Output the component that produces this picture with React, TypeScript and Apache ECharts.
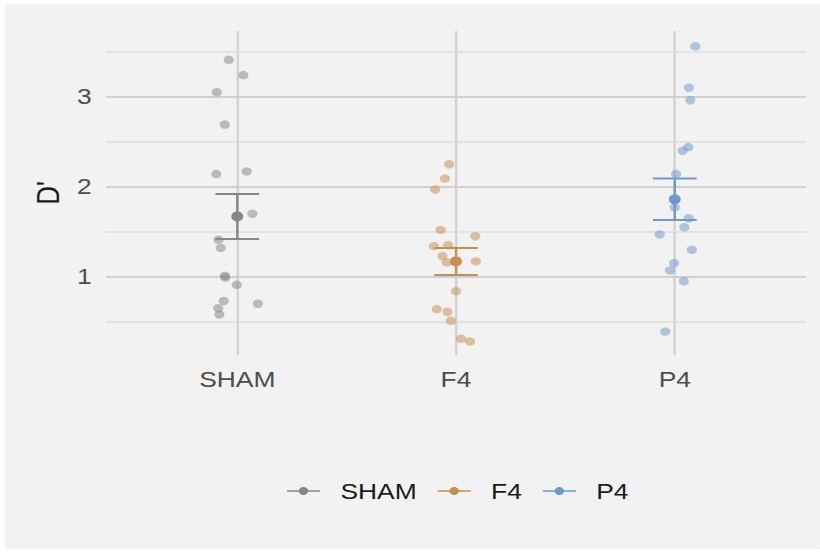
import React, { useEffect, useRef } from "react";
import * as echarts from "echarts";

// ---- data ----
const categories = ["SHAM", "F4", "P4"];
const categoryPositions = [1, 2, 3];

const shamX = [0.961, 1.028, 0.906, 0.943, 0.904, 1.043, 1.069, 0.914, 0.924, 0.943, 0.945, 0.998, 0.938, 1.094, 0.913, 0.918];
const shamY = [3.41, 3.24, 3.05, 2.69, 2.14, 2.17, 1.70, 1.41, 1.32, 1.01, 0.99, 0.91, 0.73, 0.70, 0.65, 0.58];

const f4X = [1.969, 1.949, 1.905, 1.930, 2.088, 1.899, 1.964, 1.938, 1.958, 2.091, 2.000, 1.912, 1.961, 1.977, 2.023, 2.064];
const f4Y = [2.25, 2.09, 1.97, 1.52, 1.45, 1.34, 1.35, 1.23, 1.16, 1.17, 0.84, 0.64, 0.61, 0.51, 0.31, 0.28];

const p4X = [3.094, 3.065, 3.071, 3.062, 3.036, 3.006, 3.000, 3.064, 3.044, 2.931, 3.078, 2.997, 2.978, 3.041, 2.957];
const p4Y = [3.56, 3.10, 2.96, 2.44, 2.40, 2.14, 1.77, 1.65, 1.55, 1.47, 1.30, 1.15, 1.07, 0.95, 0.39];

const means = [1.67, 1.17, 1.86];
const lowers = [1.42, 1.02, 1.63];
const uppers = [1.92, 1.32, 2.09];

const yLabelTicks = [1, 2, 3];
const yMajorGrid = [1, 2, 3];
const yMinorGrid = [0.5, 1.5, 2.5, 3.5];

const colors = ["#878787", "#c6904f", "#6f98cc"];

const ICON =
  "path://M0,3.7 L10,3.7 L10,5.3 L0,5.3 Z M17.5,3.7 L27.5,3.7 L27.5,5.3 L17.5,5.3 Z M9.75,4.5 A4,4 0 1,1 17.75,4.5 A4,4 0 1,1 9.75,4.5 Z";

const FONT = "Liberation Sans, Arial, Helvetica, sans-serif";

export default function App() {
  const ref = useRef<HTMLDivElement>(null);

  useEffect(() => {
    if (!ref.current) return;
    const chart = echarts.init(ref.current, null, { renderer: "svg" });

    const groupsX = [shamX, f4X, p4X];
    const groupsY = [shamY, f4Y, p4Y];

    const series: any[] = [];

    // gridlines as mark lines (beneath everything)
    series.push({
      type: "scatter",
      name: "grid",
      data: [],
      z: 0,
      silent: true,
      markLine: {
        silent: true,
        z: 1,
        symbol: "none",
        label: { show: false },
        animation: false,
        data: [
          ...categoryPositions.map((v) => ({ xAxis: v, lineStyle: { color: "#d2d2d2", width: 2, type: "solid" } })),
          ...yMinorGrid.map((v) => ({ yAxis: v, lineStyle: { color: "#dcdcdc", width: 1.5, type: "solid" } })),
          ...yMajorGrid.map((v) => ({ yAxis: v, lineStyle: { color: "#d0d0d0", width: 2, type: "solid" } })),
        ],
      },
    });

    categories.forEach((name, i) => {
      const c = colors[i];
      series.push({
        type: "scatter",
        name,
        z: 10,
        symbolSize: 8.5,
        itemStyle: { color: c, opacity: 0.52 },
        data: groupsX[i].map((x, k) => [x, groupsY[i][k]]),
      });
      series.push({
        type: "custom",
        name,
        z: 11,
        data: [[categoryPositions[i], lowers[i], uppers[i]]],
        encode: { x: 0, y: [1, 2] },
        renderItem: (params: any, api: any) => {
          const x = api.value(0);
          const lo = api.value(1);
          const hi = api.value(2);
          const pLo = api.coord([x, lo]);
          const pHi = api.coord([x, hi]);
          const l = api.coord([x - 0.1, lo])[0];
          const r = api.coord([x + 0.1, lo])[0];
          return {
            type: "group",
            children: [
              { type: "rect", shape: { x: pLo[0] - 1, y: pHi[1], width: 2, height: pLo[1] - pHi[1] }, style: { fill: c } },
              { type: "rect", shape: { x: l, y: pLo[1] - 1, width: r - l, height: 2 }, style: { fill: c } },
              { type: "rect", shape: { x: l, y: pHi[1] - 1, width: r - l, height: 2 }, style: { fill: c } },
            ],
          };
        },
      });
      series.push({
        type: "scatter",
        name,
        z: 12,
        symbolSize: 10,
        itemStyle: { color: c, opacity: 1 },
        data: [[categoryPositions[i], means[i]]],
      });
    });

    chart.setOption({
      animation: false,
      backgroundColor: "#f2f2f2",
      textStyle: { fontFamily: FONT },
      grid: { left: 84.2, right: 11.5, top: 27, bottom: 194, containLabel: false },
      legend: {
        left: 230,
        top: 471,
        orient: "horizontal",
        itemWidth: 27.5,
        itemHeight: 8,
        itemGap: 17.5,
        selectedMode: false,
        textStyle: { fontSize: 22, color: "#1a1a1a", fontFamily: FONT, padding: [0, 0, 0, 12] },
        data: categories.map((n, i) => ({
          name: n,
          icon: ICON,
          itemStyle: { color: colors[i], opacity: 1 },
        })),
      },
      xAxis: {
        type: "value",
        min: 0.4,
        max: 3.6,
        axisLine: { show: false },
        axisTick: { show: false },
        splitLine: { show: false },
        axisLabel: {
          customValues: categoryPositions,
          formatter: (v: number) => categories[Math.round(v) - 1] ?? "",
          fontSize: 22,
          color: "#4d4d4d",
          margin: 13,
          fontFamily: FONT,
        },
      },
      yAxis: {
        type: "value",
        min: 0.13,
        max: 3.73,
        name: "D'",
        nameLocation: "middle",
        nameRotate: 90,
        nameGap: 35,
        nameTextStyle: { fontSize: 26, color: "#1a1a1a", fontFamily: FONT },
        axisLine: { show: false },
        axisTick: { show: false },
        splitLine: { show: false },
        axisLabel: {
          customValues: yLabelTicks,
          formatter: (v: number) => String(Math.round(v)),
          fontSize: 22,
          color: "#4d4d4d",
          margin: 12,
          fontFamily: FONT,
        },
      },
      series,
    });

    return () => chart.dispose();
  }, []);

  return (
    <div
      ref={ref}
      style={{
        position: "fixed",
        left: 5,
        top: 4,
        width: 679,
        height: 545,
        transform: "scaleX(1.2)",
        transformOrigin: "0 0",
        background: "#f2f2f2",
      }}
    />
  );
}
